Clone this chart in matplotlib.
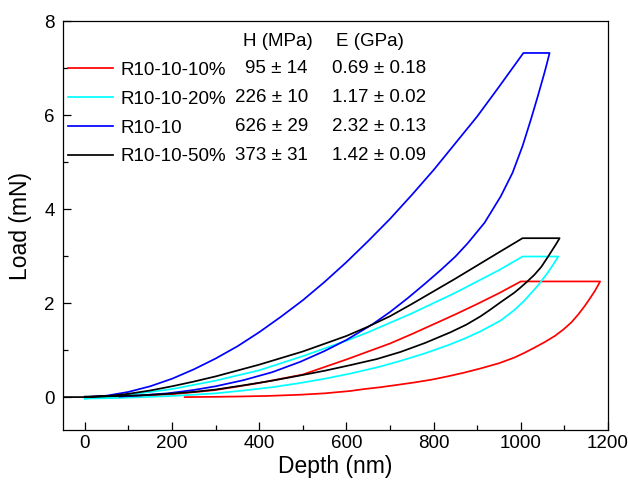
import matplotlib
matplotlib.use('Agg')
import matplotlib.pyplot as plt

plt.rcParams['font.family'] = ['Liberation Sans', 'DejaVu Sans']

labels = ['R10-10-10%', 'R10-10-20%', 'R10-10', 'R10-10-50%']
colors = ['#ff0000', '#00ffff', '#0000ff', '#000000']
hardness = ['95 ± 14', '226 ± 10', '626 ± 29', '373 ± 31']
modulus = ['0.69 ± 0.18', '1.17 ± 0.02', '2.32 ± 0.13', '1.42 ± 0.09']

red_depth = [0, 100, 200, 300, 400, 500, 600, 650, 700, 750, 800, 850, 900, 950, 1000,
             1182, 1170, 1158, 1146, 1132, 1116, 1098, 1078, 1055, 1031, 1008, 985, 950, 908, 870, 832,
             795, 755, 717, 678, 640, 609, 550, 494, 420, 350, 290, 229]
red_load = [0, 0.01, 0.06, 0.15, 0.30, 0.48, 0.80, 0.97, 1.14, 1.34, 1.55, 1.76, 1.98, 2.21, 2.46,
            2.46, 2.26, 2.09, 1.93, 1.76, 1.59, 1.44, 1.30, 1.17, 1.05, 0.94, 0.84, 0.72, 0.61, 0.52, 0.44,
            0.37, 0.31, 0.26, 0.21, 0.17, 0.13, 0.08, 0.05, 0.025, 0.012, 0.005, 0.0]

cyan_depth = [0, 50, 100, 200, 300, 400, 500, 600, 650, 700, 750, 800, 850, 900, 950, 1004,
              1086, 1075, 1062, 1039, 1008, 985, 954, 908, 870, 832, 780, 724, 678, 609, 550, 494,
              430, 364, 300, 249, 190, 133, 70, 0]
cyan_load = [-0.03, 0.0, 0.05, 0.17, 0.35, 0.57, 0.87, 1.20, 1.38, 1.58, 1.78, 2.0, 2.22, 2.46, 2.70, 2.99,
             2.99, 2.83, 2.65, 2.37, 2.05, 1.85, 1.63, 1.40, 1.24, 1.10, 0.93, 0.77, 0.65, 0.50, 0.39, 0.30,
             0.21, 0.14, 0.08, 0.05, 0.02, 0.0, -0.02, -0.03]

blue_depth = [0, 50, 100, 150, 200, 250, 300, 350, 400, 450, 500, 550, 600, 650, 700, 750, 800, 850,
              900, 950, 1006, 1066, 1060, 1054, 1039, 1023, 1004, 981, 954, 917, 878, 850, 816, 780,
              740, 700, 660, 601, 550, 494, 430, 364, 300, 249, 190, 133, 80]
blue_load = [0, 0.03, 0.11, 0.23, 0.39, 0.59, 0.82, 1.08, 1.38, 1.71, 2.06, 2.45, 2.87, 3.32, 3.79, 4.30,
             4.83, 5.40, 5.97, 6.60, 7.32, 7.32, 7.10, 6.89, 6.40, 5.90, 5.34, 4.77, 4.27, 3.71, 3.27, 2.99,
             2.70, 2.41, 2.10, 1.81, 1.55, 1.22, 0.98, 0.75, 0.53, 0.36, 0.23, 0.15, 0.08, 0.04, 0.01]

black_depth = [-50, 0, 50, 100, 150, 200, 250, 300, 400, 500, 600, 650, 700, 750, 800, 850, 900, 950,
               1004, 1089, 1080, 1062, 1047, 1031, 1015, 998, 985, 954, 930, 908, 875, 839, 780, 724,
               670, 609, 550, 494, 430, 364, 300, 249, 190, 133, 70, 0]
black_load = [0, 0, 0.02, 0.07, 0.14, 0.23, 0.33, 0.44, 0.69, 0.97, 1.30, 1.50, 1.72, 1.98, 2.25, 2.52,
              2.80, 3.08, 3.38, 3.38, 3.24, 2.98, 2.77, 2.60, 2.46, 2.32, 2.22, 2.02, 1.86, 1.72, 1.54, 1.38,
              1.15, 0.96, 0.81, 0.68, 0.56, 0.46, 0.35, 0.25, 0.16, 0.11, 0.07, 0.04, 0.02, 0.01]

series = [(red_depth, red_load), (cyan_depth, cyan_load), (blue_depth, blue_load), (black_depth, black_load)]

x_ticks = [0, 200, 400, 600, 800, 1000, 1200]
y_ticks = [0, 2, 4, 6, 8]

fig = plt.figure(figsize=(6.28, 4.8), dpi=100)
ax = fig.add_axes([63 / 628, 50 / 480, 545 / 628, 409 / 480])

handles = []
for (d, l), c, lab in zip(series, colors, labels):
    h, = ax.plot(d, l, color=c, lw=1.25, label=lab)
    handles.append(h)

ax.set_xlim(-50, 1200)
ax.set_ylim(-0.7, 8)
ax.set_xticks(x_ticks)
ax.set_yticks(y_ticks)
ax.set_xticks(range(0, 1201, 100), minor=True)
ax.set_yticks(range(0, 9, 1), minor=True)
ax.tick_params(which='both', direction='in', top=False, right=False, labelsize=13.5, width=0.9)
ax.tick_params(which='major', length=6)
ax.tick_params(which='minor', length=3.5)
ax.tick_params(axis='x', pad=3.5)
ax.tick_params(axis='y', pad=6)
for s in ax.spines.values():
    s.set_linewidth(0.9)

ax.set_xlabel('Depth (nm)', fontsize=16.5)
ax.set_ylabel('Load (mN)', fontsize=16.5)
ax.xaxis.set_label_coords(0.5, -0.062)
ax.yaxis.set_label_coords(-0.057, 0.5)

leg = ax.legend(handles=handles, loc='upper left', bbox_to_anchor=(0.009, 0.900), frameon=False,
                fontsize=13.5, handlelength=2.4, handletextpad=0.4, borderpad=0, borderaxespad=0,
                labelspacing=0.62)

row_y = [0.885, 0.814, 0.743, 0.672]
ax.text(0.395, 0.949, 'H (MPa)', transform=ax.transAxes, ha='center', va='center', fontsize=13.5)
ax.text(0.564, 0.949, 'E (GPa)', transform=ax.transAxes, ha='center', va='center', fontsize=13.5)
for y, hv, ev in zip(row_y, hardness, modulus):
    ax.text(0.4495, y, hv, transform=ax.transAxes, ha='right', va='center', fontsize=13.5)
    ax.text(0.4936, y, ev, transform=ax.transAxes, ha='left', va='center', fontsize=13.5)

fig.savefig('out.png', dpi=100)
